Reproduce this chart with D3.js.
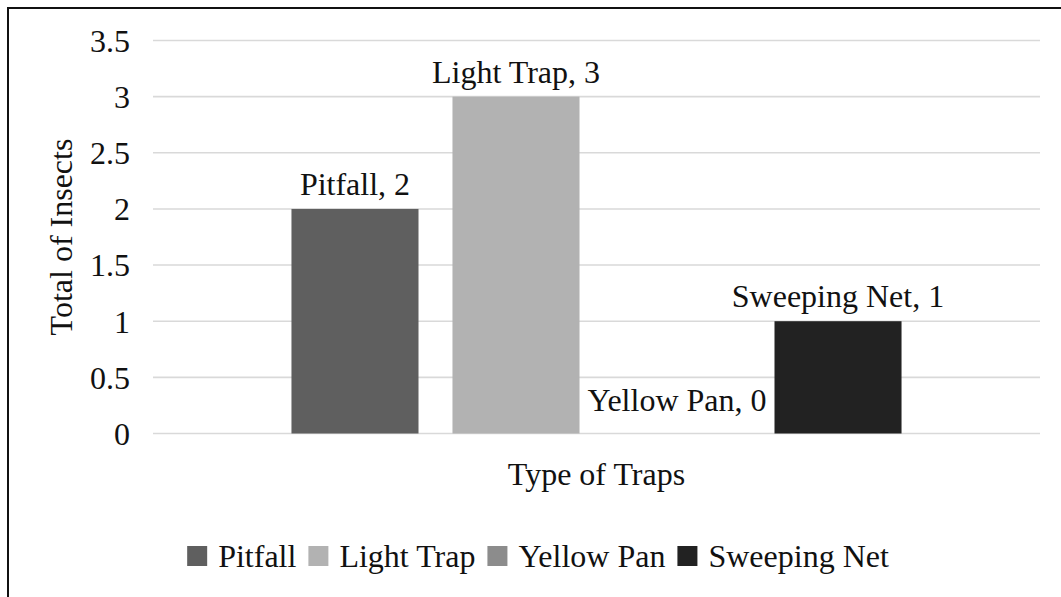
<!DOCTYPE html>
<html>
<head>
<meta charset="utf-8">
<script src="https://cdn.jsdelivr.net/npm/d3@7"></script>
<style>
  html, body { margin: 0; padding: 0; background: #fff; }
  svg { display: block; }
  svg text { font-family: 'Liberation Serif', 'DejaVu Serif', serif; fill: #111; }
</style>
</head>
<body>
<svg id="chart" width="1061" height="597"></svg>
<script>
// Insect counts per trap type
const category = ["Type of Traps"];
const series = ["Pitfall", "Light Trap", "Yellow Pan", "Sweeping Net"];
const totals = [2, 3, 0, 1];
const colors = ["#5f5f5f", "#b2b2b2", "#8c8c8c", "#222222"];
const yTicks = [0, 0.5, 1, 1.5, 2, 2.5, 3, 3.5];

const FONT = "'Liberation Serif', 'DejaVu Serif', serif";
const fontSize = 32;
const plot = { left: 153, right: 1040, top: 40.5, bottom: 433.5 };

const svg = d3.select("#chart");

// outer frame (extends past the right and bottom edges)
svg.append("rect")
  .attr("x", 8).attr("y", 8)
  .attr("width", 1200).attr("height", 800)
  .attr("fill", "none").attr("stroke", "#111").attr("stroke-width", 2);

const y = d3.scaleLinear().domain([0, 3.5]).range([plot.bottom, plot.top]);

const x0 = d3.scaleBand().domain(category).range([plot.left, plot.right]).padding(0);
const x1 = d3.scaleBand().domain(series).range([0, x0.bandwidth()])
  .paddingInner(0.211).paddingOuter(0.86);

// gridlines
svg.append("g").selectAll("line").data(yTicks).join("line")
  .attr("x1", plot.left).attr("x2", plot.right)
  .attr("y1", d => y(d)).attr("y2", d => y(d))
  .attr("stroke", "#d9d9d9").attr("stroke-width", 1.6);

// y axis tick labels
const yAxis = d3.axisLeft(y).tickValues(yTicks).tickSize(0).tickPadding(0)
  .tickFormat(d3.format("~g"));
const gy = svg.append("g").attr("transform", `translate(130,0)`).call(yAxis)
  .attr("font-family", FONT).attr("font-size", fontSize);
gy.select(".domain").remove();
gy.selectAll("text")
  .attr("font-size", fontSize)
  .attr("fill", "#111")
  .attr("dy", "0.34em");

// bars
const rows = series.map((s, i) => ({ name: s, value: totals[i], color: colors[i] }));
const group = svg.append("g").attr("transform", `translate(${x0(category[0])},0)`);
group.selectAll("rect").data(rows).join("rect")
  .attr("x", d => x1(d.name))
  .attr("y", d => y(d.value))
  .attr("width", x1.bandwidth())
  .attr("height", d => y(0) - y(d.value))
  .attr("fill", d => d.color);

// value labels above each bar
group.selectAll("text.lbl").data(rows).join("text")
  .attr("class", "lbl")
  .attr("x", d => x1(d.name) + x1.bandwidth() / 2)
  .attr("y", d => y(d.value) - (d.value === 0 ? 23 : 14))
  .attr("text-anchor", "middle")
  .attr("font-size", fontSize)
  .text(d => `${d.name}, ${d.value}`);

// axis titles
svg.append("text")
  .attr("x", (plot.left + plot.right) / 2).attr("y", 485)
  .attr("text-anchor", "middle").attr("font-size", fontSize)
  .text("Type of Traps");

svg.append("text")
  .attr("transform", `translate(72,${(plot.top + plot.bottom) / 2}) rotate(-90)`)
  .attr("text-anchor", "middle").attr("font-size", fontSize)
  .text("Total of Insects");

// legend, centred under the chart area
const legend = svg.append("g");
const sw = 20, gapIn = 11, gapOut = 12;
const items = legend.selectAll("g").data(rows).join("g");
items.append("rect")
  .attr("width", sw).attr("height", sw).attr("y", 546)
  .attr("fill", d => d.color);
items.append("text")
  .attr("x", sw + gapIn).attr("y", 567)
  .attr("font-size", fontSize)
  .text(d => d.name);
let cx = 0;
items.each(function () {
  const g = d3.select(this);
  g.attr("transform", `translate(${cx},0)`);
  const tw = g.select("text").node().getComputedTextLength();
  cx += sw + gapIn + tw + gapOut;
});
const total = cx - gapOut;
legend.attr("transform", `translate(${538 - total / 2},0)`);
</script>
</body>
</html>
